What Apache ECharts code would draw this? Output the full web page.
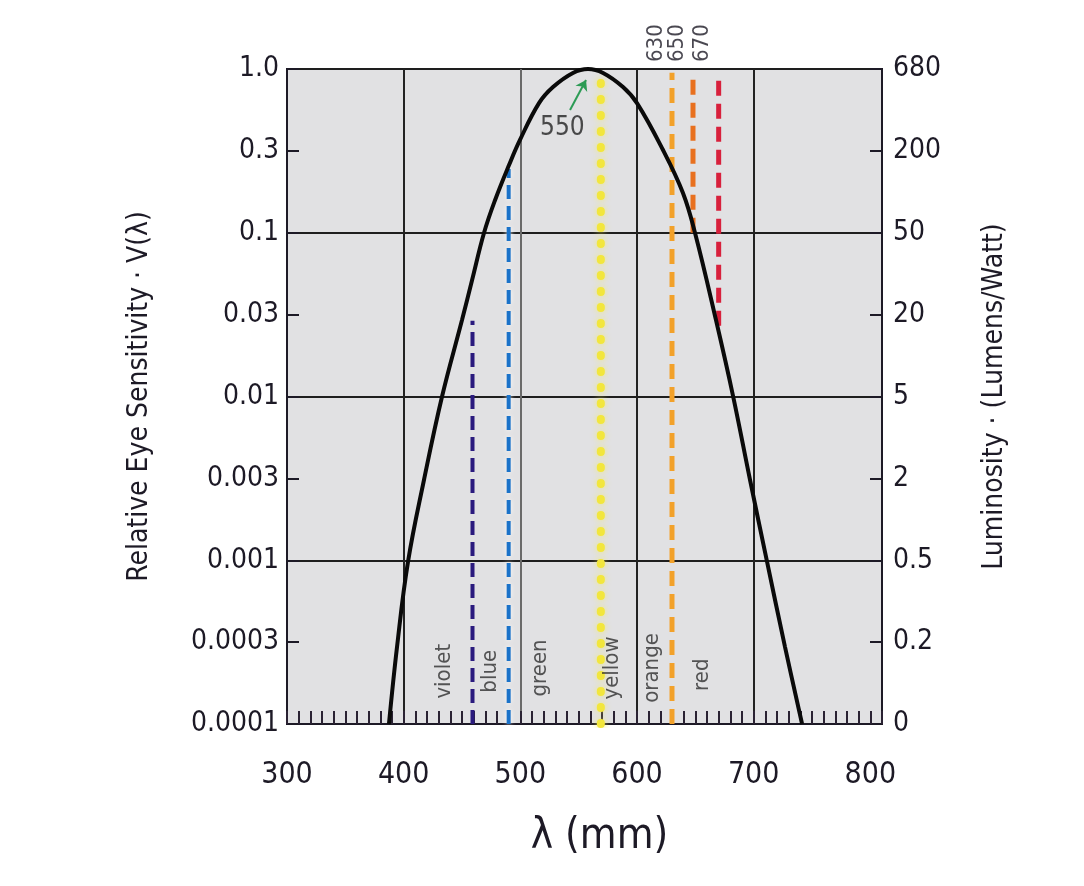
<!DOCTYPE html>
<html><head><meta charset="utf-8">
<script src="https://cdn.jsdelivr.net/npm/echarts@6/dist/echarts.min.js"></script>
<style>html,body{margin:0;padding:0;background:#fff}#c{width:1084px;height:886px}</style>
</head><body><div id="c"></div>
<script>
// ---- data ----
const xTickLabels = [300, 400, 500, 600, 700, 800];
const leftTickLabels = ['0.0001', '0.0003', '0.001', '0.003', '0.01', '0.03', '0.1', '0.3', '1.0'];
const rightTickLabels = ['0', '0.2', '0.5', '2', '5', '20', '50', '200', '680'];

const curveLambda = [387.4, 394.3, 403.7, 417.4, 432.9, 450, 458.6, 468.9, 478.3, 490.3, 499.7, 516, 528, 545.1, 558, 570.9, 588, 600, 622.3, 639.4, 649.7, 667.7, 682.3, 696.9, 711.5, 726.9, 741.5];
const curveV = [0.0001, 0.000295, 0.000977, 0.00309, 0.01, 0.0293, 0.0513, 0.1, 0.158, 0.259, 0.369, 0.619, 0.776, 0.946, 1.0, 0.946, 0.776, 0.619, 0.32, 0.175, 0.1, 0.0293, 0.0101, 0.00309, 0.000977, 0.000295, 0.0001];

const markerLambda = [459, 490, 569, 630, 648, 670];
const markerFrom = [0.0001, 0.0001, 0.0001, 0.0001, 0.1, 0.027];
const markerTo = [0.029, 0.245, 0.93, 0.95, 0.95, 0.95];
const topLabelText = ['630', '650', '670'];
const topLabelMarker = [3, 4, 5];

const bandNames = ['violet', 'blue', 'green', 'yellow', 'orange', 'red'];
const bandLambda = [435, 474, 517, 579, 613, 656];
const bandV = [0.00021, 0.00021, 0.00022, 0.00022, 0.00022, 0.0002];

const peakText = '550';
const peakTextAt = [536, 0.436];
const arrowFrom = [542.6, 0.562];
const arrowTo = [556.3, 0.857];

// ---- styles ----
const FONT = '"Liberation Sans Narrow","DejaVu Sans Condensed","Liberation Sans",sans-serif';
const ink = '#1d1a26';
const markerStyles = [
  {color: '#2a1a7e', width: 4, type: [14, 7], cap: 'butt'},
  {color: '#1a72c9', width: 4, type: [14, 7], cap: 'butt', shadowColor: 'rgba(255,255,255,0.9)', shadowBlur: 5},
  {color: '#f2e63c', width: 8, type: [1, 15], cap: 'round', shadowColor: 'rgba(245,236,90,0.8)', shadowBlur: 6},
  {color: '#f2a12a', width: 5, type: [15, 8], cap: 'butt'},
  {color: '#e8701f', width: 5, type: [15, 8], cap: 'butt'},
  {color: '#d8203c', width: 5, type: [15, 8], cap: 'butt'}
];
const L = v => Math.log10(v);

const xTicksAll = [];
for (let v = 300; v <= 810; v += 10) xTicksAll.push(v);
const xSplitColors = xTicksAll.map(v => v === 500 ? '#6a6a6a' : ([400, 600, 700].includes(v) ? '#222' : 'rgba(0,0,0,0)'));

const series = [];
markerLambda.forEach((lam, i) => {
  series.push({
    type: 'line', silent: true, symbol: 'none', z: 2,
    data: [[lam, L(markerFrom[i])], [lam, L(markerTo[i])]],
    lineStyle: markerStyles[i]
  });
});
series.push({
  type: 'line', silent: true, symbol: 'none', z: 5, smooth: 0.4,
  data: curveLambda.map((l, i) => [l, L(curveV[i])]),
  lineStyle: {color: '#0a0a0a', width: 4}
});
series.push({
  type: 'scatter', silent: true, symbolSize: 0, z: 6,
  data: bandLambda.map((l, i) => [l, L(bandV[i])]),
  label: {show: true, position: 'inside', rotate: 90, formatter: p => bandNames[p.dataIndex],
    fontFamily: FONT, fontSize: 22, color: '#2e2e2e'}
});
series.push({
  type: 'scatter', silent: true, symbolSize: 0, z: 6,
  data: topLabelMarker.map(m => [markerLambda[m], 0]),
  label: {show: true, position: 'inside', rotate: 90, align: 'left', verticalAlign: 'middle', offset: [7, -16],
    formatter: p => topLabelText[p.dataIndex], fontFamily: FONT, fontSize: 22, color: ink}
});
series.push({
  type: 'scatter', silent: true, symbolSize: 0, z: 7,
  data: [[peakTextAt[0], L(peakTextAt[1])]],
  label: {show: true, position: 'inside', formatter: peakText, fontFamily: FONT, fontSize: 26, color: '#222'},
  markLine: {silent: true, symbol: ['none', 'arrow'], symbolSize: 10, animation: false,
    lineStyle: {color: '#2c9b55', width: 2, type: 'solid'}, label: {show: false},
    data: [[{coord: [arrowFrom[0], L(arrowFrom[1])]}, {coord: [arrowTo[0], L(arrowTo[1])]}]]}
});

const option = {
  animation: false,
  backgroundColor: '#ffffff',
  grid: {left: 287, top: 69, width: 595, height: 655, show: true, backgroundColor: '#e1e1e3', borderColor: '#15131c', borderWidth: 2},
  xAxis: {
    type: 'value', min: 300, max: 810, interval: 10,
    axisLine: {show: true, onZero: false, lineStyle: {color: ink, width: 2}},
    axisTick: {show: true, inside: true, length: 13, lineStyle: {color: '#2a2233', width: 2}},
    axisLabel: {margin: 36, fontFamily: FONT, fontSize: 30, color: ink,
      formatter: v => xTickLabels.includes(v) ? String(v) : ''},
    splitLine: {show: true, lineStyle: {width: 2, color: xSplitColors}},
    name: 'λ (mm)', nameLocation: 'middle', nameGap: 92,
    nameTextStyle: {fontFamily: FONT, fontSize: 42, color: ink, padding: [0, 0, 0, 30]}
  },
  yAxis: [
    {
      type: 'value', min: -4, max: 0, interval: 0.5, position: 'left',
      axisLine: {show: true, onZero: false, lineStyle: {color: ink, width: 2}},
      axisTick: {show: true, inside: true, length: 12, lineStyle: {color: ink, width: 2}},
      axisLabel: {margin: 8, fontFamily: FONT, fontSize: 28, color: ink,
        formatter: v => leftTickLabels[Math.round((v + 4) / 0.5)]},
      splitLine: {show: true, lineStyle: {width: 2, color: ['#1e1e1e', 'rgba(0,0,0,0)']}},
      name: 'Relative Eye Sensitivity · V(λ)', nameLocation: 'middle', nameRotate: 90, nameGap: 133,
      nameTextStyle: {fontFamily: FONT, fontSize: 28, color: ink}
    },
    {
      type: 'value', min: -4, max: 0, interval: 0.5, position: 'right',
      axisLine: {show: true, onZero: false, lineStyle: {color: ink, width: 2}},
      axisTick: {show: true, inside: true, length: 12, lineStyle: {color: ink, width: 2}},
      axisLabel: {margin: 11, fontFamily: FONT, fontSize: 28, color: ink,
        formatter: v => rightTickLabels[Math.round((v + 4) / 0.5)]},
      splitLine: {show: false},
      name: 'Luminosity · (Lumens/Watt)', nameLocation: 'middle', nameRotate: 90, nameGap: 99,
      nameTextStyle: {fontFamily: FONT, fontSize: 28, color: ink}
    }
  ],
  series: series
};
const chart = echarts.init(document.getElementById('c'), null, {renderer: 'canvas'});
chart.setOption(option);
</script>
</body></html>
